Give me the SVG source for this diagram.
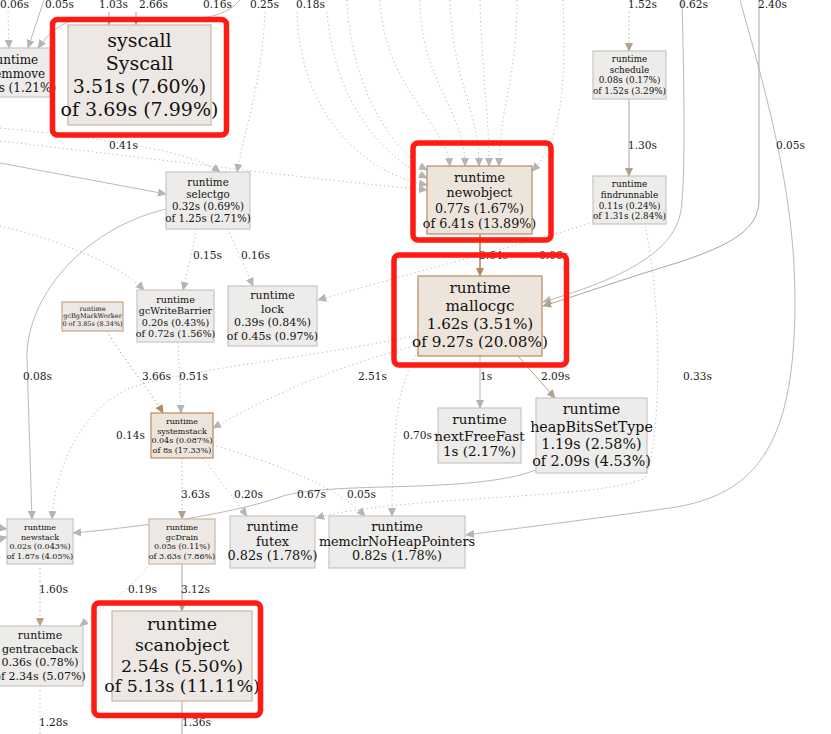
<svg xmlns="http://www.w3.org/2000/svg" width="831" height="734" viewBox="0 0 831 734">
<defs>
<style>
text{font-family:"DejaVu Serif","Liberation Serif",serif;fill:#111;text-anchor:middle}
.lbl{font-size:10.6px;text-anchor:start;fill:#1a1a1a}
.e{fill:none;stroke:#b9b9b9;stroke-width:1}
.d{stroke-dasharray:1.2 3}
.t{stroke:#b3a38f}
.o{stroke:#b8875c;stroke-width:1.6}
.ng{fill:#edecea;stroke:#c9c5c0;stroke-width:1.2}
.nt{fill:#ede8e3;stroke:#c9b7a4;stroke-width:1.2}
.no{fill:#ede4dc;stroke:#ba8a60;stroke-width:1.2}
.hl{fill:none;stroke:#ff1a12;stroke-width:5.5}
</style>
<marker id="ag" viewBox="0 0 10 10" refX="9" refY="5" markerWidth="9" markerHeight="9" markerUnits="userSpaceOnUse" orient="auto"><path d="M0,0.5 L10,5 L0,9.5z" fill="#b5b5b5"/></marker>
<marker id="at" viewBox="0 0 10 10" refX="9" refY="5" markerWidth="9" markerHeight="9" markerUnits="userSpaceOnUse" orient="auto"><path d="M0,0.5 L10,5 L0,9.5z" fill="#b3a18b"/></marker>
<marker id="ao" viewBox="0 0 10 10" refX="9" refY="5" markerWidth="9" markerHeight="9" markerUnits="userSpaceOnUse" orient="auto"><path d="M0,0.5 L10,5 L0,9.5z" fill="#b8875c"/></marker>
</defs>
<rect width="831" height="734" fill="#ffffff"/>
<g id="edges">
<path class="e d" d="M8,12 L9,48" marker-end="url(#ag)"/>
<path class="e" d="M44,0 L28,48" marker-end="url(#ag)"/>
<path class="e" d="M240,0 C228,14 210,18 190,19 L80,19 C62,21 48,34 38,48" marker-end="url(#ag)"/>
<path class="e t" d="M109,12 L109,25" marker-end="url(#at)"/>
<path class="e t" d="M136,12 L136,25" marker-end="url(#at)"/>
<path class="e" d="M0,163 L166,194" marker-end="url(#ag)"/>
<path class="e d" d="M0,128 C100,138 190,150 220,172" marker-end="url(#ag)"/>
<path class="e d" d="M265,12 C262,80 245,130 237,172" marker-end="url(#ag)"/>
<path class="e d" d="M0,141 C150,158 300,178 427,190" marker-end="url(#ag)"/>
<path class="e d" d="M297,12 C300,120 370,175 427,185" marker-end="url(#ag)"/>
<path class="e d" d="M327,12 C335,110 390,160 427,178" marker-end="url(#ag)"/>
<path class="e d" d="M347,0 C352,100 400,155 427,170" marker-end="url(#ag)"/>
<path class="e d" d="M380,0 C385,90 445,120 450,166" marker-end="url(#ag)"/>
<path class="e d" d="M420,0 C420,80 465,110 465,166" marker-end="url(#ag)"/>
<path class="e d" d="M450,0 C452,80 479,110 479,166" marker-end="url(#ag)"/>
<path class="e d" d="M480,0 C482,80 489,110 489,166" marker-end="url(#ag)"/>
<path class="e d" d="M517,0 C517,80 499,110 499,166" marker-end="url(#ag)"/>
<path class="e d" d="M563,0 C566,90 562,140 532,171" marker-end="url(#ag)"/>
<path class="e d t" d="M629,12 L629,51" marker-end="url(#at)"/>
<path class="e t" d="M629,99 L629,176" marker-end="url(#at)"/>
<path class="e" d="M682,0 C684,80 686,190 680,215 C670,260 600,285 543,302" marker-end="url(#ag)"/>
<path class="e t" d="M759,0 L759,200 C759,230 730,245 680,262 C620,280 570,298 543,306" marker-end="url(#at)"/>
<path class="e" d="M740,0 C765,90 795,190 795,300 C795,440 760,495 670,508 C600,518 520,528 466,535" marker-end="url(#ag)"/>
<path class="e o" d="M480,234 L480,276" marker-end="url(#ao)"/>
<path class="e d" d="M197,229 L183,290" marker-end="url(#ag)"/>
<path class="e d" d="M228,229 L253,286" marker-end="url(#ag)"/>
<path class="e" d="M166,209 C80,230 25,300 27,360 L32,519" marker-end="url(#ag)"/>
<path class="e d" d="M0,226 C60,240 120,265 144,290" marker-end="url(#ag)"/>
<path class="e d" d="M593,222 C540,240 440,265 318,300" marker-end="url(#ag)"/>
<path class="e d" d="M418,345 C340,365 270,395 213,428" marker-end="url(#ag)"/>
<path class="e d" d="M418,335 C330,355 180,370 130,388 C80,410 55,470 52,519" marker-end="url(#ag)"/>
<path class="e d" d="M-6,527 L7,529" marker-end="url(#ag)"/>
<path class="e d" d="M-6,540 L7,537" marker-end="url(#ag)"/>
<path class="e d o" style="stroke-width:1" d="M107,331 C120,355 150,390 163,413" marker-end="url(#ao)"/>
<path class="e d" d="M178,342 L181,413" marker-end="url(#ag)"/>
<path class="e d t" d="M182,458 L182,519" marker-end="url(#at)"/>
<path class="e d" d="M203,458 L247,516" marker-end="url(#ag)"/>
<path class="e d" d="M213,445 C260,460 330,480 365,516" marker-end="url(#ag)"/>
<path class="e d" d="M418,352 C400,380 392,420 392,516" marker-end="url(#ag)"/>
<path class="e d" d="M645,226 C662,300 662,440 645,478 C600,500 400,495 316,518" marker-end="url(#ag)"/>
<path class="e" d="M480,356 L480,408" marker-end="url(#ag)"/>
<path class="e t" d="M518,356 L555,398" marker-end="url(#at)"/>
<path class="e" d="M536,470 C470,495 330,480 280,497 C230,515 130,528 73,533" marker-end="url(#ag)"/>
<path class="e t" d="M182,564 L182,611" marker-end="url(#at)"/>
<path class="e d" d="M150,564 C130,590 100,610 80,626" marker-end="url(#ag)"/>
<path class="e d t" d="M40,564 L40,626" marker-end="url(#at)"/>
<path class="e d" d="M40,686 L40,734"/>
<path class="e t" d="M182,701 L182,734"/>
</g>
<g id="edge-labels">
<text class="lbl" x="0" y="8">0.06s</text>
<text class="lbl" x="45" y="8">0.05s</text>
<text class="lbl" x="99" y="8">1.03s</text>
<text class="lbl" x="139" y="8">2.66s</text>
<text class="lbl" x="203" y="8">0.16s</text>
<text class="lbl" x="250" y="8">0.25s</text>
<text class="lbl" x="296" y="8">0.18s</text>
<text class="lbl" x="628" y="8">1.52s</text>
<text class="lbl" x="679" y="8">0.62s</text>
<text class="lbl" x="758" y="8">2.40s</text>
<text class="lbl" x="109" y="149">0.41s</text>
<text class="lbl" x="628" y="149">1.30s</text>
<text class="lbl" x="776" y="149">0.05s</text>
<text class="lbl" x="193" y="259">0.15s</text>
<text class="lbl" x="241" y="259">0.16s</text>
<text class="lbl" x="479" y="259">3.64s</text>
<text class="lbl" x="539" y="259">0.06s</text>
<text class="lbl" x="23" y="380">0.08s</text>
<text class="lbl" x="142" y="380">3.66s</text>
<text class="lbl" x="179" y="380">0.51s</text>
<text class="lbl" x="358" y="380">2.51s</text>
<text class="lbl" x="480" y="380">1s</text>
<text class="lbl" x="541" y="380">2.09s</text>
<text class="lbl" x="683" y="380">0.33s</text>
<text class="lbl" x="116" y="439">0.14s</text>
<text class="lbl" x="403" y="439">0.70s</text>
<text class="lbl" x="181" y="498">3.63s</text>
<text class="lbl" x="234" y="498">0.20s</text>
<text class="lbl" x="297" y="498">0.67s</text>
<text class="lbl" x="347" y="498">0.05s</text>
<text class="lbl" x="39" y="593">1.60s</text>
<text class="lbl" x="128" y="593">0.19s</text>
<text class="lbl" x="181" y="593">3.12s</text>
<text class="lbl" x="39" y="726">1.28s</text>
<text class="lbl" x="182" y="726">1.36s</text>
</g>
<g id="node-memmove">
<rect class="ng" x="-22" y="48" width="72" height="49"/>
<text font-size="12" x="14" y="64">runtime</text>
<text font-size="12" x="14" y="78">memmove</text>
<text font-size="12" x="14" y="92">0.56s (1.21%)</text>
</g>
<g id="node-syscall">
<rect class="nt" x="68" y="25" width="143" height="100"/>
<text font-size="19" x="139.5" y="47">syscall</text>
<text font-size="19" x="139.5" y="70">Syscall</text>
<text font-size="19" x="139.5" y="93">3.51s (7.60%)</text>
<text font-size="19" x="139.5" y="116">of 3.69s (7.99%)</text>
</g>
<g id="node-selectgo">
<rect class="ng" x="166" y="172" width="84" height="57"/>
<text font-size="10.3" x="208" y="186">runtime</text>
<text font-size="10.3" x="208" y="198">selectgo</text>
<text font-size="10.3" x="208" y="210">0.32s (0.69%)</text>
<text font-size="10.3" x="208" y="222">of 1.25s (2.71%)</text>
</g>
<g id="node-newobject">
<rect class="no" x="427" y="166" width="105" height="68"/>
<text font-size="12.7" x="479.5" y="181.5">runtime</text>
<text font-size="12.7" x="479.5" y="197">newobject</text>
<text font-size="12.7" x="479.5" y="212.5">0.77s (1.67%)</text>
<text font-size="12.7" x="479.5" y="228">of 6.41s (13.89%)</text>
</g>
<g id="node-schedule">
<rect class="ng" x="593" y="51" width="73" height="48"/>
<text font-size="8.8" x="629.5" y="62">runtime</text>
<text font-size="8.8" x="629.5" y="72.5">schedule</text>
<text font-size="8.8" x="629.5" y="83">0.08s (0.17%)</text>
<text font-size="8.8" x="629.5" y="93.5">of 1.52s (3.29%)</text>
</g>
<g id="node-findrunnable">
<rect class="ng" x="593" y="176" width="73" height="48"/>
<text font-size="8.8" x="629.5" y="187">runtime</text>
<text font-size="8.8" x="629.5" y="198">findrunnable</text>
<text font-size="8.8" x="629.5" y="208.5">0.11s (0.24%)</text>
<text font-size="8.8" x="629.5" y="219">of 1.31s (2.84%)</text>
</g>
<g id="node-mallocgc">
<rect class="no" x="418" y="276" width="124" height="80"/>
<text font-size="15.2" x="480" y="293">runtime</text>
<text font-size="15.2" x="480" y="311">mallocgc</text>
<text font-size="15.2" x="480" y="329">1.62s (3.51%)</text>
<text font-size="15.2" x="480" y="347">of 9.27s (20.08%)</text>
</g>
<g id="node-gcBgMarkWorker">
<rect class="nt" style="stroke:#c9a585" x="62" y="302" width="61" height="29"/>
<text font-size="6.5" x="92.5" y="310.5">runtime</text>
<text font-size="6.5" x="92.5" y="318">gcBgMarkWorker</text>
<text font-size="6.5" x="92.5" y="325.5">0 of 3.85s (8.34%)</text>
</g>
<g id="node-gcWriteBarrier">
<rect class="ng" x="137" y="290" width="77" height="52"/>
<text font-size="9.6" x="175.5" y="302.5">runtime</text>
<text font-size="9.6" x="175.5" y="313.5">gcWriteBarrier</text>
<text font-size="9.6" x="175.5" y="325.5">0.20s (0.43%)</text>
<text font-size="9.6" x="175.5" y="336.5">of 0.72s (1.56%)</text>
</g>
<g id="node-lock">
<rect class="ng" x="228" y="286" width="89" height="60"/>
<text font-size="11" x="272.5" y="299">runtime</text>
<text font-size="11" x="272.5" y="312.5">lock</text>
<text font-size="11" x="272.5" y="326">0.39s (0.84%)</text>
<text font-size="11" x="272.5" y="339.5">of 0.45s (0.97%)</text>
</g>
<g id="node-systemstack">
<rect class="no" x="151" y="413" width="62" height="45"/>
<text font-size="8" x="182" y="424">runtime</text>
<text font-size="8" x="182" y="433.5">systemstack</text>
<text font-size="8" x="182" y="443">0.04s (0.087%)</text>
<text font-size="8" x="182" y="452.5">of 8s (17.33%)</text>
</g>
<g id="node-nextFreeFast">
<rect class="ng" x="438" y="408" width="83" height="55"/>
<text font-size="13.5" x="479.5" y="424">runtime</text>
<text font-size="13.5" x="479.5" y="440.5">nextFreeFast</text>
<text font-size="13.5" x="479.5" y="456">1s (2.17%)</text>
</g>
<g id="node-heapBitsSetType">
<rect class="ng" x="536" y="398" width="111" height="75"/>
<text font-size="14.3" x="591.5" y="414">runtime</text>
<text font-size="14.3" x="591.5" y="431.5">heapBitsSetType</text>
<text font-size="14.3" x="591.5" y="449">1.19s (2.58%)</text>
<text font-size="14.3" x="591.5" y="466">of 2.09s (4.53%)</text>
</g>
<g id="node-newstack">
<rect class="ng" x="7" y="519" width="66" height="45"/>
<text font-size="8" x="40" y="530">runtime</text>
<text font-size="8" x="40" y="539.5">newstack</text>
<text font-size="8" x="40" y="549">0.02s (0.043%)</text>
<text font-size="8" x="40" y="558.5">of 1.87s (4.05%)</text>
</g>
<g id="node-gcDrain">
<rect class="nt" x="149" y="519" width="66" height="45"/>
<text font-size="8" x="182" y="530">runtime</text>
<text font-size="8" x="182" y="539.5">gcDrain</text>
<text font-size="8" x="182" y="549">0.05s (0.11%)</text>
<text font-size="8" x="182" y="558.5">of 3.63s (7.86%)</text>
</g>
<g id="node-futex">
<rect class="ng" x="230" y="516" width="85" height="52"/>
<text font-size="12.8" x="272.5" y="530.5">runtime</text>
<text font-size="12.8" x="272.5" y="545.5">futex</text>
<text font-size="12.8" x="272.5" y="560">0.82s (1.78%)</text>
</g>
<g id="node-memclrNoHeapPointers">
<rect class="ng" x="329" y="516" width="136" height="52"/>
<text font-size="12.8" x="397" y="530.5">runtime</text>
<text font-size="12.8" x="397" y="545.5">memclrNoHeapPointers</text>
<text font-size="12.8" x="397" y="560">0.82s (1.78%)</text>
</g>
<g id="node-gentraceback">
<rect class="ng" x="-4" y="626" width="87" height="60"/>
<text font-size="11" x="40" y="639">runtime</text>
<text font-size="11" x="40" y="652.5">gentraceback</text>
<text font-size="11" x="40" y="666">0.36s (0.78%)</text>
<text font-size="11" x="40" y="679.5">of 2.34s (5.07%)</text>
</g>
<g id="node-scanobject">
<rect class="nt" x="112" y="611" width="140" height="90"/>
<text font-size="17.4" x="182" y="630">runtime</text>
<text font-size="17.4" x="182" y="651">scanobject</text>
<text font-size="17.4" x="182" y="671.5">2.54s (5.50%)</text>
<text font-size="17.4" x="182" y="692">of 5.13s (11.11%)</text>
</g>
<g id="highlights">
<rect class="hl" x="52.5" y="19.5" width="174" height="115.5" rx="5"/>
<rect class="hl" x="413" y="143" width="138" height="97" rx="5"/>
<rect class="hl" x="394" y="255" width="172.5" height="110" rx="5"/>
<rect class="hl" x="94" y="603" width="166.5" height="112.5" rx="5"/>
</g>
</svg>
